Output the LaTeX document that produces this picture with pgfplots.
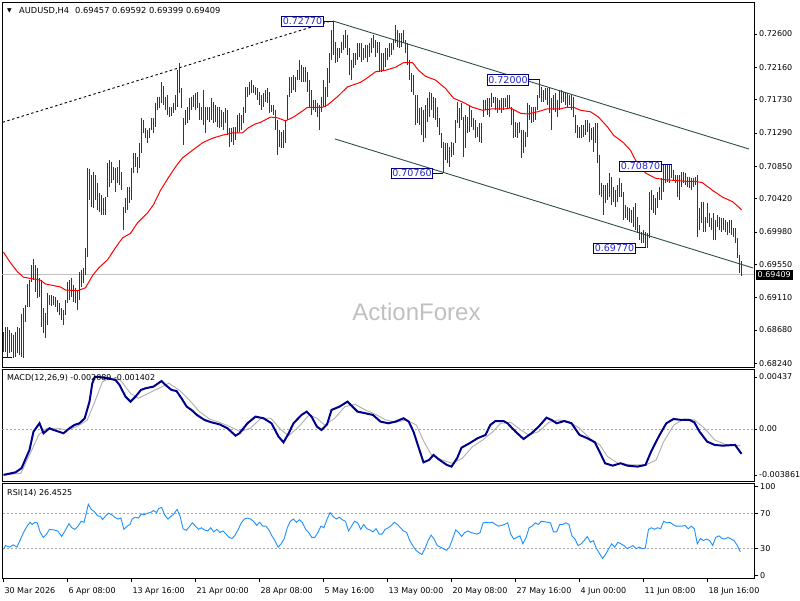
\documentclass[border=0pt]{standalone}
\usepackage{pgfplots}
\pgfplotsset{compat=1.18}
\usepackage{pgfplotstable}
\usepackage{fontspec}
\setmainfont{DejaVu Sans}
\newfontfamily\wmfont{Liberation Sans}
\definecolor{barcol}{RGB}{18,64,94}
\definecolor{trendcol}{RGB}{47,79,79}
\definecolor{lblborder}{RGB}{0,0,128}
\definecolor{lbltext}{RGB}{40,40,210}
\definecolor{macdcol}{RGB}{0,0,140}
\definecolor{sigcol}{RGB}{175,175,175}
\definecolor{rsicol}{RGB}{30,144,255}
\definecolor{pricegrey}{RGB}{192,192,192}
\newcommand{\lf}{\fontsize{8}{9.6}\selectfont}

\pgfplotstableread{
i h l
0 0.6865 0.6839
1 0.6872 0.6839
2 0.6872 0.6832
3 0.6868 0.6838
4 0.6864 0.6839
5 0.6861 0.6831
6 0.6865 0.6832
7 0.6872 0.6838
8 0.6871 0.6835
9 0.6889 0.6832
10 0.6897 0.6831
11 0.6901 0.6879
12 0.6929 0.6899
13 0.6934 0.6899
14 0.6954 0.6932
15 0.6962 0.6934
16 0.6954 0.6918
17 0.6950 0.6910
18 0.6937 0.6912
19 0.6934 0.6872
20 0.6897 0.6864
21 0.6891 0.6857
22 0.6917 0.6875
23 0.6914 0.6901
24 0.6914 0.6900
25 0.6913 0.6901
26 0.6912 0.6899
27 0.6908 0.6892
28 0.6904 0.6888
29 0.6897 0.6881
30 0.6895 0.6875
31 0.6908 0.6888
32 0.6932 0.6904
33 0.6934 0.6908
34 0.6937 0.6912
35 0.6928 0.6905
36 0.6924 0.6904
37 0.6921 0.6895
38 0.6945 0.6908
39 0.6948 0.6925
40 0.6950 0.6930
41 0.6977 0.6941
42 0.7083 0.6965
43 0.7081 0.7040
44 0.7073 0.7031
45 0.7077 0.7030
46 0.7073 0.7040
47 0.7063 0.7027
48 0.7049 0.7024
49 0.7047 0.7020
50 0.7043 0.7020
51 0.7044 0.7020
52 0.7089 0.7044
53 0.7093 0.7057
54 0.7091 0.7063
55 0.7084 0.7067
56 0.7083 0.7051
57 0.7084 0.7063
58 0.7093 0.7060
59 0.7077 0.7053
60 0.7031 0.7000
61 0.7043 0.7023
62 0.7057 0.7027
63 0.7057 0.7036
64 0.7083 0.7040
65 0.7102 0.7076
66 0.7102 0.7084
67 0.7097 0.7076
68 0.7116 0.7083
69 0.7149 0.7102
70 0.7146 0.7129
71 0.7136 0.7122
72 0.7133 0.7116
73 0.7136 0.7122
74 0.7149 0.7133
75 0.7149 0.7129
76 0.7169 0.7137
77 0.7177 0.7159
78 0.7177 0.7162
79 0.7196 0.7169
80 0.7191 0.7166
81 0.7177 0.7159
82 0.7179 0.7153
83 0.7163 0.7150
84 0.7163 0.7151
85 0.7169 0.7155
86 0.7179 0.7159
87 0.7212 0.7163
88 0.7222 0.7182
89 0.7188 0.7162
90 0.7149 0.7113
91 0.7159 0.7139
92 0.7163 0.7142
93 0.7175 0.7146
94 0.7177 0.7159
95 0.7179 0.7163
96 0.7182 0.7159
97 0.7183 0.7162
98 0.7169 0.7146
99 0.7163 0.7146
100 0.7186 0.7139
101 0.7163 0.7129
102 0.7163 0.7146
103 0.7163 0.7143
104 0.7175 0.7146
105 0.7170 0.7142
106 0.7166 0.7143
107 0.7163 0.7137
108 0.7163 0.7136
109 0.7159 0.7137
110 0.7157 0.7133
111 0.7162 0.7142
112 0.7159 0.7126
113 0.7136 0.7110
114 0.7136 0.7117
115 0.7137 0.7113
116 0.7137 0.7120
117 0.7153 0.7129
118 0.7155 0.7130
119 0.7153 0.7133
120 0.7163 0.7142
121 0.7190 0.7155
122 0.7190 0.7177
123 0.7196 0.7179
124 0.7199 0.7182
125 0.7192 0.7182
126 0.7190 0.7179
127 0.7188 0.7173
128 0.7183 0.7166
129 0.7179 0.7159
130 0.7182 0.7163
131 0.7186 0.7170
132 0.7188 0.7169
133 0.7183 0.7155
134 0.7166 0.7157
135 0.7166 0.7153
136 0.7159 0.7133
137 0.7146 0.7100
138 0.7133 0.7110
139 0.7130 0.7109
140 0.7133 0.7109
141 0.7146 0.7116
142 0.7179 0.7146
143 0.7203 0.7177
144 0.7203 0.7182
145 0.7206 0.7186
146 0.7203 0.7183
147 0.7212 0.7199
148 0.7226 0.7199
149 0.7219 0.7196
150 0.7216 0.7196
151 0.7216 0.7196
152 0.7210 0.7183
153 0.7199 0.7163
154 0.7186 0.7153
155 0.7173 0.7159
156 0.7173 0.7157
157 0.7169 0.7150
158 0.7166 0.7133
159 0.7177 0.7157
160 0.7199 0.7163
161 0.7190 0.7163
162 0.7215 0.7177
163 0.7235 0.7195
164 0.7265 0.7226
165 0.7277 0.7232
166 0.7249 0.7222
167 0.7241 0.7223
168 0.7241 0.7228
169 0.7249 0.7235
170 0.7259 0.7239
171 0.7265 0.7241
172 0.7259 0.7232
173 0.7241 0.7206
174 0.7226 0.7199
175 0.7235 0.7215
176 0.7235 0.7219
177 0.7248 0.7226
178 0.7248 0.7230
179 0.7248 0.7223
180 0.7241 0.7226
181 0.7245 0.7228
182 0.7245 0.7223
183 0.7248 0.7230
184 0.7255 0.7235
185 0.7259 0.7241
186 0.7252 0.7230
187 0.7249 0.7235
188 0.7249 0.7210
189 0.7235 0.7210
190 0.7235 0.7212
191 0.7241 0.7216
192 0.7241 0.7226
193 0.7248 0.7230
194 0.7248 0.7232
195 0.7252 0.7239
196 0.7272 0.7248
197 0.7265 0.7243
198 0.7261 0.7241
199 0.7261 0.7243
200 0.7265 0.7248
201 0.7252 0.7235
202 0.7248 0.7219
203 0.7226 0.7199
204 0.7208 0.7183
205 0.7206 0.7179
206 0.7179 0.7139
207 0.7179 0.7142
208 0.7162 0.7139
209 0.7163 0.7126
210 0.7159 0.7117
211 0.7166 0.7122
212 0.7175 0.7143
213 0.7183 0.7150
214 0.7182 0.7159
215 0.7177 0.7149
216 0.7175 0.7146
217 0.7163 0.7137
218 0.7149 0.7126
219 0.7129 0.7109
220 0.7117 0.7076
221 0.7116 0.7093
222 0.7116 0.7089
223 0.7110 0.7084
224 0.7117 0.7097
225 0.7116 0.7100
226 0.7146 0.7116
227 0.7170 0.7142
228 0.7162 0.7136
229 0.7169 0.7146
230 0.7150 0.7097
231 0.7153 0.7109
232 0.7150 0.7129
233 0.7166 0.7130
234 0.7159 0.7137
235 0.7149 0.7133
236 0.7146 0.7122
237 0.7137 0.7124
238 0.7142 0.7117
239 0.7142 0.7116
240 0.7173 0.7150
241 0.7173 0.7159
242 0.7175 0.7153
243 0.7175 0.7150
244 0.7182 0.7163
245 0.7177 0.7169
246 0.7177 0.7159
247 0.7175 0.7155
248 0.7173 0.7159
249 0.7175 0.7155
250 0.7175 0.7159
251 0.7175 0.7163
252 0.7179 0.7162
253 0.7179 0.7162
254 0.7163 0.7139
255 0.7159 0.7122
256 0.7143 0.7124
257 0.7142 0.7122
258 0.7143 0.7129
259 0.7133 0.7096
260 0.7133 0.7102
261 0.7130 0.7110
262 0.7169 0.7124
263 0.7166 0.7146
264 0.7163 0.7142
265 0.7163 0.7143
266 0.7163 0.7146
267 0.7179 0.7159
268 0.7200 0.7175
269 0.7190 0.7170
270 0.7186 0.7170
271 0.7188 0.7173
272 0.7188 0.7166
273 0.7188 0.7155
274 0.7175 0.7133
275 0.7179 0.7159
276 0.7182 0.7157
277 0.7173 0.7150
278 0.7186 0.7159
279 0.7186 0.7169
280 0.7183 0.7170
281 0.7182 0.7166
282 0.7182 0.7163
283 0.7179 0.7166
284 0.7179 0.7159
285 0.7177 0.7150
286 0.7153 0.7129
287 0.7139 0.7122
288 0.7137 0.7122
289 0.7139 0.7122
290 0.7139 0.7124
291 0.7146 0.7126
292 0.7146 0.7130
293 0.7142 0.7117
294 0.7136 0.7120
295 0.7137 0.7104
296 0.7142 0.7116
297 0.7142 0.7089
298 0.7100 0.7047
299 0.7063 0.7044
300 0.7060 0.7020
301 0.7060 0.7036
302 0.7063 0.7040
303 0.7076 0.7044
304 0.7071 0.7034
305 0.7057 0.7038
306 0.7053 0.7031
307 0.7060 0.7038
308 0.7069 0.7044
309 0.7063 0.7044
310 0.7051 0.7014
311 0.7034 0.7016
312 0.7031 0.7014
313 0.7030 0.7011
314 0.7027 0.7010
315 0.7031 0.7004
316 0.7036 0.7000
317 0.7018 0.6996
318 0.7007 0.6987
319 0.6998 0.6983
320 0.7000 0.6983
321 0.6998 0.6978
322 0.6996 0.6977
323 0.7051 0.6990
324 0.7053 0.7027
325 0.7047 0.7023
326 0.7043 0.7020
327 0.7051 0.7030
328 0.7057 0.7040
329 0.7069 0.7040
330 0.7087 0.7051
331 0.7087 0.7063
332 0.7087 0.7064
333 0.7087 0.7063
334 0.7087 0.7069
335 0.7080 0.7067
336 0.7073 0.7063
337 0.7073 0.7044
338 0.7073 0.7040
339 0.7077 0.7057
340 0.7077 0.7063
341 0.7076 0.7060
342 0.7071 0.7057
343 0.7071 0.7056
344 0.7069 0.7053
345 0.7069 0.7057
346 0.7071 0.7060
347 0.7073 0.6991
348 0.7030 0.7000
349 0.7038 0.7010
350 0.7038 0.6998
351 0.7018 0.6998
352 0.7036 0.7010
353 0.7023 0.7004
354 0.7016 0.7000
355 0.7023 0.6987
356 0.7014 0.6987
357 0.7020 0.7004
358 0.7018 0.7000
359 0.7016 0.6998
360 0.7016 0.7000
361 0.7014 0.6998
362 0.7011 0.6994
363 0.7014 0.6996
364 0.7014 0.6994
365 0.7003 0.6991
366 0.7003 0.6983
367 0.6990 0.6963
368 0.6967 0.6944
369 0.69592 0.69399
}\bars

\pgfplotstableread{
i v
0 0.6971
3.5 0.6957
7 0.6945
10 0.6938
18.5 0.6934
21 0.6929
28.5 0.6925
31 0.6921
37 0.6920
41 0.6924
44.5 0.6940
47.5 0.6950
52 0.6961
56 0.6977
59.5 0.6990
63.5 0.6996
67 0.7010
72 0.7023
75 0.7034
78.5 0.7053
82 0.7068
86 0.7084
89.5 0.7096
94.5 0.7106
99.5 0.7116
104.5 0.7122
109.5 0.7126
114.5 0.7129
119.5 0.7129
122.5 0.7136
126 0.7141
128.5 0.7143
133.5 0.7150
137 0.7149
141 0.7145
145 0.7150
150 0.7159
152 0.7163
159.5 0.7163
162 0.7166
167 0.7177
172 0.7190
178.5 0.7196
182 0.7202
186 0.7210
191 0.7212
196 0.7216
200 0.7222
204.5 0.7222
207.5 0.7212
211 0.7204
216 0.7199
221 0.7188
225 0.7175
229.5 0.7170
234.5 0.7163
239.5 0.7159
244.5 0.7161
251 0.7161
253.5 0.7162
258.5 0.7155
262 0.7154
267 0.7157
272 0.7161
278.5 0.7161
282 0.7163
285 0.7163
288.5 0.7159
293.5 0.7157
297.5 0.7150
302 0.7137
305 0.7126
310 0.7116
313.5 0.7106
316 0.7093
321 0.7076
326 0.7069
331 0.7067
341 0.7065
346 0.7065
349.5 0.7063
354.5 0.7053
359.5 0.7044
364.5 0.7038
367.5 0.7031
369 0.7027
}\ma

\pgfplotstableread{
i v
0 -0.00386
6 -0.00364
9 -0.00330
13 -0.00176
15 -0.00022
18 0.00048
20 -0.00036
23 0.00006
25 -0.00008
30 -0.00036
33 0.00006
35.5 0.00034
38 0.00048
40.6 0.00090
43 0.00230
44.4 0.00384
45.7 0.00437
48 0.00437
52 0.00426
56 0.00412
58 0.00370
61 0.00272
63.5 0.00230
66 0.00272
68.7 0.00328
71 0.00342
75 0.00356
79 0.00403
81 0.00370
84 0.00328
86.5 0.00319
89 0.00258
91.6 0.00188
94 0.00160
96.7 0.00118
100.5 0.00076
104 0.00056
108 0.00039
112 0.00006
116 -0.00056
118 -0.00036
122 0.00048
126 0.00104
130 0.00090
134 0.00048
137.5 -0.00064
140 -0.00112
142.6 -0.00036
145 0.00048
149 0.00118
151.6 0.00146
154 0.00104
156.7 0.00020
159 -0.00008
161.8 0.00039
164 0.00160
168 0.00188
172 0.00230
174.5 0.00188
177 0.00146
181 0.00132
184.7 0.00118
188.5 0.00062
192.4 0.00048
196 0.00062
200 0.00090
202.6 0.00062
205 -0.00022
207.7 -0.00162
210 -0.00280
212.8 -0.00260
215 -0.00218
218 -0.00260
221.7 -0.00302
224 -0.00316
226.8 -0.00246
229 -0.00157
233 -0.00120
237 -0.00078
241 -0.00050
243.4 0.00034
246 0.00067
250 0.00067
252 0.00048
256 -0.00022
260 -0.00084
264 -0.00036
267.6 0.00020
271.5 0.00095
274 0.00076
276.6 0.00048
280.4 0.00067
284 0.00048
288 -0.00050
292 -0.00078
295.7 -0.00112
298 -0.00190
300.8 -0.00288
304.6 -0.00308
308.5 -0.00288
312 -0.00308
317 -0.00316
321 -0.00302
323.8 -0.00190
327.6 -0.00064
331.4 0.00048
335 0.00084
339 0.00076
343 0.00076
345.4 0.00056
348 -0.00022
351.8 -0.00106
355.6 -0.00134
359.5 -0.00140
365.8 -0.00134
369 -0.002089
}\macd

\pgfplotstableread{
i v
1 -0.00386
8.7 -0.00372
13.8 -0.00190
17.6 -0.00050
21.5 0.00006
26.6 0.00006
31.7 -0.00008
36.8 0.00020
41.9 0.00076
45.7 0.00230
49.5 0.00398
53.3 0.00426
58.4 0.00412
63.5 0.00300
67.4 0.00258
72.5 0.00300
77.6 0.00342
82.7 0.00384
87.8 0.00328
92.9 0.00244
98 0.00146
103 0.00084
108 0.00056
113.3 0.00020
118.4 -0.00022
123.5 0.00006
128.6 0.00090
133.7 0.00090
138.8 -0.00008
142.6 -0.00056
147.7 0.00020
152.8 0.00118
156.7 0.00090
160.5 0.00034
165.6 0.00090
170.7 0.00188
175.8 0.00207
180.9 0.00160
186 0.00123
191.1 0.00076
196.2 0.00056
201.3 0.00076
206.4 0.00034
210.2 -0.00106
214 -0.00218
219.2 -0.00260
224.3 -0.00288
229.4 -0.00246
234.5 -0.00148
239.6 -0.00092
244.7 -0.00022
248.5 0.00048
253.6 0.00056
258.7 -0.00008
262.5 -0.00050
267.6 -0.00022
272.7 0.00056
277.8 0.00076
282.9 0.00062
288 0.00006
293.1 -0.00078
298.2 -0.00134
302 -0.00232
307.2 -0.00288
313.5 -0.00302
321.2 -0.00302
326.3 -0.00260
330.1 -0.00106
335.2 0.00034
340.3 0.00084
345.4 0.00076
350.5 0.00006
355.6 -0.00092
360.7 -0.00129
368.4 -0.001402
}\signal

\pgfplotstableread{
i v
0 29.3
1.0 33.6
3.1 31.8
4.9 34.4
6.7 31.8
8.2 39.1
10.0 48.2
11.8 55.4
13.3 59.8
14.3 57.3
15.8 59.8
16.9 59.1
18.4 48.2
19.9 42.7
21.5 46.4
23.0 51.8
25.3 51.1
27.1 50.0
29.1 43.8
31.2 51.8
32.7 58.3
34.2 53.6
35.7 51.8
37.3 55.4
38.8 60.9
40.3 59.8
41.4 70.0
42.4 80.1
43.9 74.3
45.4 71.8
47.0 67.1
48.5 66.3
49.5 62.7
51.1 67.1
52.6 70.0
54.1 68.2
55.6 65.6
57.2 63.4
58.7 64.5
60.2 51.8
61.8 55.4
63.3 57.3
64.3 63.4
65.8 65.6
67.4 64.5
68.9 69.2
70.4 68.2
72.0 70.0
73.5 70.7
75.0 72.9
76.6 70.7
77.6 75.4
79.1 76.5
80.6 68.2
82.2 63.4
83.7 66.3
85.2 69.2
86.8 74.3
88.3 66.3
89.8 52.5
91.4 50.7
92.9 54.7
94.4 59.1
96.0 55.4
97.5 51.8
99.0 53.6
100.5 51.1
102.1 50.0
103.6 53.6
105.1 48.9
106.7 51.8
108.2 48.2
109.7 50.0
111.3 46.4
112.8 42.7
114.3 41.6
115.8 45.3
117.4 51.8
118.9 59.1
120.4 63.4
122.0 64.5
123.5 63.4
125.0 60.9
126.6 56.2
128.1 59.8
129.6 55.4
131.2 55.4
132.7 51.1
134.2 44.5
135.7 39.1
137.3 31.8
138.8 35.5
140.3 40.9
141.9 53.6
143.4 60.9
144.9 63.4
146.5 59.8
148.0 62.7
149.5 59.1
151.1 51.8
152.6 48.2
154.1 42.7
155.6 42.7
157.2 48.2
158.7 55.4
160.2 53.6
161.8 63.4
163.3 70.7
164.8 66.3
166.4 63.4
167.9 65.6
169.4 62.7
171.0 60.9
172.5 50.0
174.0 55.4
175.5 60.9
177.1 59.1
178.6 51.8
180.1 57.3
181.7 52.5
183.2 51.1
184.7 48.9
186.3 52.5
187.8 46.4
189.3 46.4
190.8 51.8
192.4 53.6
193.9 56.2
195.4 59.8
197.0 57.3
198.5 53.6
200.0 50.0
201.6 48.2
203.1 39.1
204.6 33.6
206.2 28.2
207.7 25.6
209.2 23.5
210.7 30.0
212.3 39.1
213.8 45.3
215.3 40.9
216.9 33.6
218.4 31.8
219.9 30.0
221.5 28.2
223.0 31.8
224.5 40.9
226.1 51.1
227.6 48.2
229.1 43.8
230.6 48.2
232.2 50.0
233.7 48.2
235.2 47.4
236.8 46.4
238.3 48.2
239.8 59.1
241.4 59.8
242.9 59.1
244.4 59.8
246.0 57.3
247.5 55.4
249.0 56.2
250.5 57.3
252.1 59.1
253.6 46.4
255.1 40.9
256.7 42.7
258.2 44.5
259.7 35.5
261.3 42.7
262.8 53.6
264.3 55.4
265.9 59.1
267.4 57.3
268.9 60.9
270.4 60.5
272.0 59.8
273.5 59.1
275.0 48.9
276.6 48.9
278.1 57.3
279.6 57.3
281.2 59.1
282.7 57.3
284.2 44.5
285.7 40.9
287.3 33.6
288.8 35.5
290.3 39.1
291.9 43.8
293.4 37.3
294.9 39.1
296.5 30.0
298.0 24.6
299.5 19.1
301.0 23.5
302.6 30.0
304.1 35.5
305.6 31.8
307.2 37.3
308.7 35.5
310.2 33.6
311.8 30.0
313.3 31.8
314.8 33.6
316.3 30.0
317.9 31.8
319.4 30.0
320.9 30.7
322.5 51.8
324.0 53.6
325.5 51.8
327.1 53.6
328.6 52.5
330.1 60.9
331.6 59.1
333.2 59.8
334.7 57.3
336.2 55.4
337.8 55.4
339.3 55.4
340.8 56.2
342.4 52.5
343.9 55.4
345.4 52.5
346.9 35.5
348.5 41.6
350.0 39.1
351.5 40.9
353.1 39.1
354.6 33.6
356.1 42.7
357.7 44.5
359.2 41.6
360.7 40.9
362.3 42.7
363.8 40.9
365.3 39.1
366.9 33.6
368.4 26.45
}\rsi

\pgfplotsset{
  panel/.style={
    scale only axis, width=751.5pt, xmin=-0.5, xmax=375.25,
    anchor=north west, clip mode=individual,
    axis line style={black, line width=0.8pt},
    xtick=\empty, ytick pos=right, yticklabel pos=right,
    tick align=outside, major tick length=3pt,
    tick style={black, line width=0.6pt},
    yticklabel style={font=\lf, anchor=west, inner xsep=2pt},
    scaled y ticks=false,
  },
}
\tikzset{
  lbl/.style={draw=lblborder, fill=white, text=lbltext, line width=0.8pt,
    font=\fontsize{9.5}{11}\selectfont, inner xsep=1pt, inner ysep=1.5pt},
}

\begin{document}
\begin{tikzpicture}
\useasboundingbox (0,0) rectangle (800pt,-600pt);
\fill[white] (0,0) rectangle (800pt,-600pt);

% ---------------- main price panel ----------------
\begin{axis}[panel, at={(2.5pt,-2.5pt)}, height=365pt,
  ymin=0.68184, ymax=0.73017,
  ytick={0.6824,0.6868,0.6911,0.6955,0.6998,0.7042,0.7085,0.7129,0.7173,0.7216,0.726},
  yticklabels={0.68240,0.68680,0.69110,0.69550,0.69980,0.70420,0.70850,0.71290,0.71730,0.72160,0.72600}]

\node[text=pricegrey, font=\wmfont\fontsize{24}{28}\selectfont] at (axis cs:206.5,0.68919) {ActionForex};

\addplot[pricegrey, line width=1pt] coordinates {(-0.5,0.69409) (375.25,0.69409)};
\addplot[trendcol, line width=0.9pt] coordinates {(164.75,0.72772) (372.75,0.71077)};
\addplot[trendcol, line width=0.9pt] coordinates {(165.75,0.71210) (374.75,0.69502)};
\addplot[black, line width=0.9pt, dash pattern=on 2.5pt off 2.5pt] coordinates {(-0.5,0.71431) (163.5,0.72770)};
\addplot[lblborder, line width=1pt] coordinates {(-0.5,0.6831) (4.25,0.6831)};

\addplot[barcol, line width=1pt, quiver={u=0, v=\thisrow{l}-\thisrow{h}}] table[x=i, y=h] {\bars};
\addplot[red, line width=1pt] table[x=i, y=v] {\ma};

\draw[lblborder, line width=0.8pt] (axis cs:159.75,0.7277) -- (axis cs:164.75,0.7277);
\draw[lblborder, line width=0.8pt] (axis cs:262.75,0.7200) -- (axis cs:268,0.7200);
\draw[lblborder, line width=0.8pt] (axis cs:214.75,0.7076) -- (axis cs:219.75,0.7076);
\draw[lblborder, line width=0.8pt] (axis cs:329.25,0.7087) -- (axis cs:334.25,0.7087);
\draw[lblborder, line width=0.8pt] (axis cs:316.25,0.6977) -- (axis cs:321.25,0.6977);

\node[lbl] at (axis cs:149.5,0.72765) {0.72770};
\node[lbl] at (axis cs:252.25,0.71991) {0.72000};
\node[lbl] at (axis cs:204.25,0.70753) {0.70760};
\node[lbl] at (axis cs:318.5,0.70852) {0.70870};
\node[lbl] at (axis cs:305.5,0.69766) {0.69770};

\node[font=\fontsize{6}{6}\selectfont, inner sep=0pt] at (axis cs:3,0.72911) {▼};
\node[font=\fontsize{8.3}{10}\selectfont, anchor=west, inner xsep=0pt] at (axis cs:7.75,0.72911) {AUDUSD,H4\hspace{6pt}0.69457 0.69592 0.69399 0.69409};

\node[fill=black, text=white, anchor=west, font=\lf, inner xsep=2pt, inner ysep=1.5pt, xshift=1.5pt] at (axis cs:375.25,0.69409) {0.69409};
\end{axis}

% ---------------- MACD panel ----------------
\begin{axis}[panel, at={(2.5pt,-369pt)}, height=112pt,
  ymin=-0.00437, ymax=0.00504,
  ytick={-0.003861,0,0.00437}, yticklabels={-0.003861,0.00,0.00437}]
\addplot[gray!70, line width=0.7pt, dash pattern=on 2pt off 2pt] coordinates {(-0.5,0) (375.25,0)};
\addplot[sigcol, line width=0.9pt] table[x=i, y=v] {\signal};
\addplot[macdcol, line width=2pt] table[x=i, y=v] {\macd};
\node[font=\lf, anchor=west, inner xsep=0pt] at (axis cs:1.75,0.00428) {MACD(12,26,9) -0.002089 -0.001402};
\end{axis}

% ---------------- RSI panel ----------------
\begin{axis}[panel, at={(2.5pt,-483pt)}, height=95pt,
  ymin=-3, ymax=104,
  ytick={0,30,70,100}, yticklabels={0,30,70,100},
  xtick={0,32,...,352}, xtick pos=left, major tick length=4pt,
  xticklabels={30 Mar 2026,6 Apr 08:00,13 Apr 16:00,21 Apr 00:00,28 Apr 08:00,5 May 16:00,13 May 00:00,20 May 08:00,27 May 16:00,4 Jun 00:00,11 Jun 08:00,18 Jun 16:00},
  xticklabel style={font=\lf, anchor=north west, xshift=-2.5pt, yshift=-2pt}]
\addplot[gray!70, line width=0.7pt, dash pattern=on 2pt off 2pt] coordinates {(-0.5,70) (375.25,70)};
\addplot[gray!70, line width=0.7pt, dash pattern=on 2pt off 2pt] coordinates {(-0.5,30) (375.25,30)};
\addplot[rsicol, line width=0.9pt] table[x=i, y=v] {\rsi};
\node[font=\lf, anchor=west, inner xsep=0pt] at (axis cs:1.75,92.7) {RSI(14) 26.4525};
\end{axis}
\end{tikzpicture}
\end{document}
